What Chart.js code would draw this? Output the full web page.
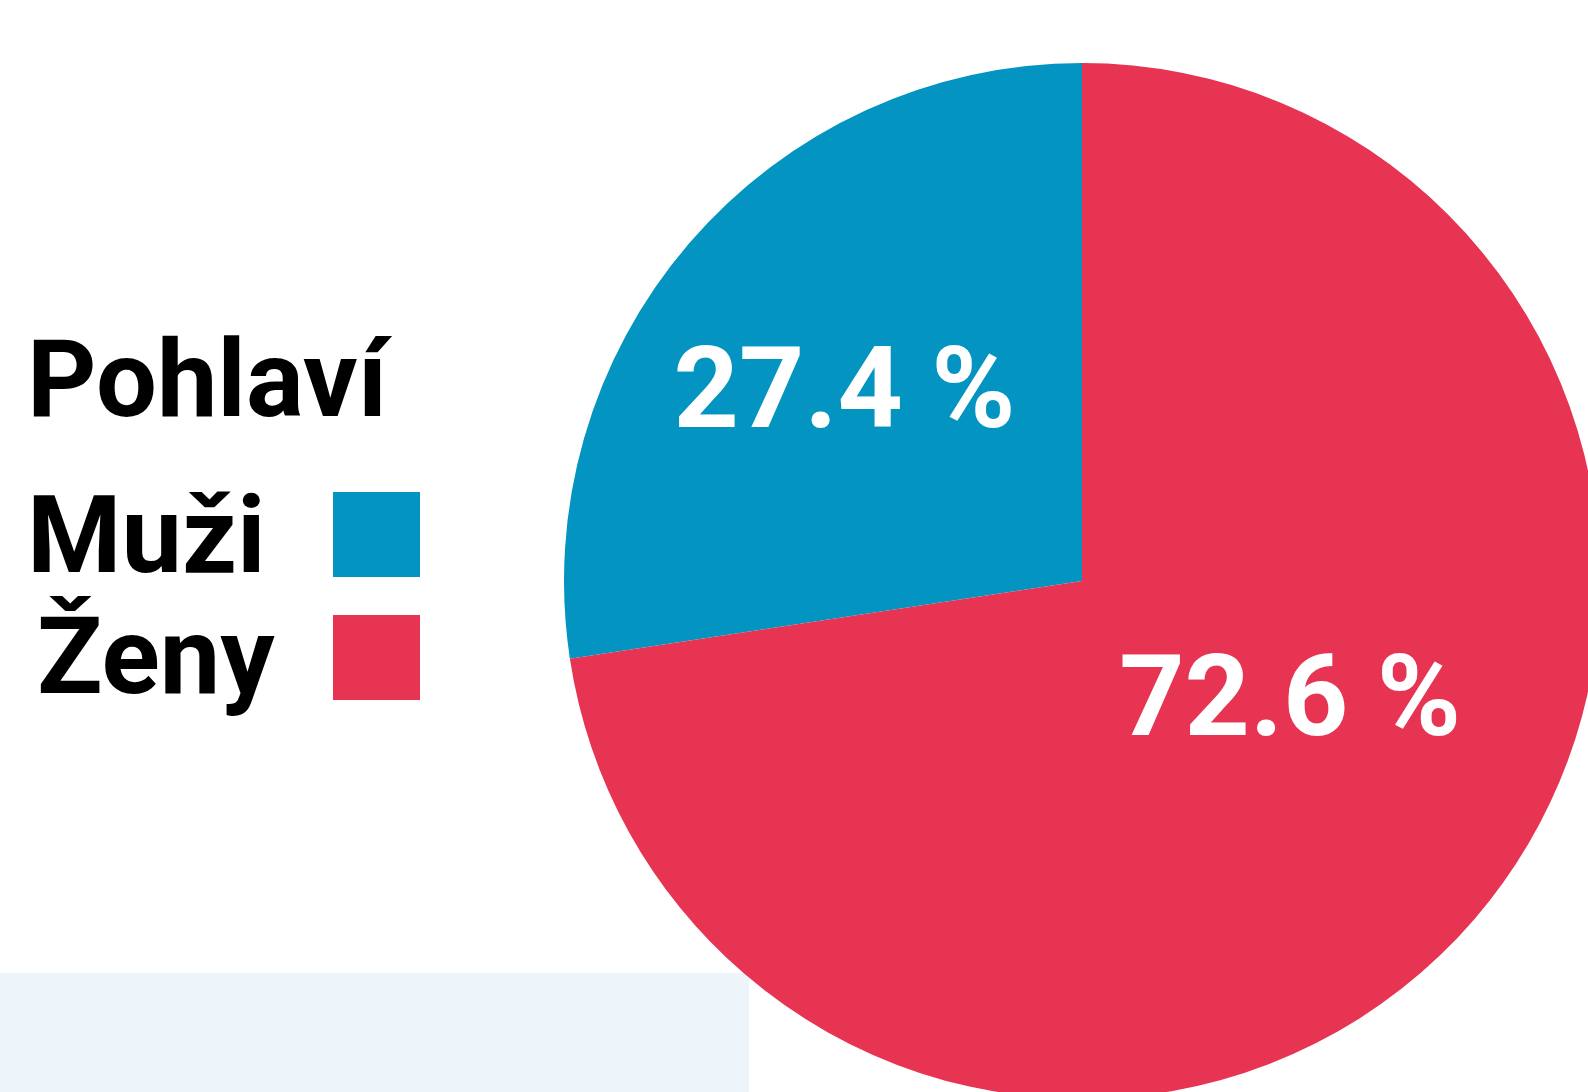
<!DOCTYPE html>
<html>
<head>
<meta charset="utf-8">
<script src="https://cdn.jsdelivr.net/npm/chart.js@4"></script>
<style>
  html, body { margin: 0; padding: 0; background: #ffffff; overflow: hidden; }
  #page { position: relative; width: 1588px; height: 1092px; overflow: hidden; background: #ffffff; }
  #band { position: absolute; left: 0; top: 973px; width: 749px; height: 119px; background: #EDF5FB; }
  #pieBox { position: absolute; left: 564px; top: 63px; width: 1036px; height: 1036px; }
  .txt { position: absolute; left: 27px; font-family: Roboto, "Liberation Sans", sans-serif; font-weight: 700; font-size: 108px; line-height: 1; color: #000; white-space: nowrap; }
  .sw { position: absolute; left: 333px; width: 87px; height: 85px; }
</style>
</head>
<body>
<div id="page">
  <div id="band"></div>
  <div id="legend"></div>
  <div id="pieBox"><canvas id="pie" width="1036" height="1036"></canvas></div>
</div>
<script>
// ---- data ----
const legendTitle = "Pohlaví";
const categories = ["Muži", "Ženy"];
const values = [27.4, 72.6];
const colors = ["#0394C1", "#E63452"];
// label placement (fraction of radius, angle offset in degrees from slice bisector)
const labelFrac = [0.593, 0.458];
const labelAngleOffset = [-1.3, -12];

// ---- legend (HTML text) ----
const legend = document.getElementById("legend");
const title = document.createElement("div");
title.className = "txt";
title.style.top = "325px";
title.textContent = legendTitle;
legend.appendChild(title);
const rowTops = [481, 602];
const rowLefts = [27, 37];
const swTops = [492, 615];
categories.forEach((c, i) => {
  const t = document.createElement("div");
  t.className = "txt";
  t.style.top = rowTops[i] + "px";
  t.style.left = rowLefts[i] + "px";
  t.textContent = c;
  legend.appendChild(t);
  const s = document.createElement("div");
  s.className = "sw";
  s.style.top = swTops[i] + "px";
  s.style.background = colors[i];
  legend.appendChild(s);
});

// ---- pie ----
const total = values.reduce((a, b) => a + b, 0);
const labelPlugin = {
  id: "sliceLabels",
  afterDatasetsDraw(chart) {
    const ctx = chart.ctx;
    const meta = chart.getDatasetMeta(0);
    ctx.save();
    ctx.font = "700 114px Roboto, 'Liberation Sans', sans-serif";
    ctx.fillStyle = "#ffffff";
    ctx.textAlign = "center";
    ctx.textBaseline = "alphabetic";
    const capH = ctx.measureText("H").actualBoundingBoxAscent;
    meta.data.forEach((arc, i) => {
      const p = arc.getProps(["x", "y", "startAngle", "endAngle", "outerRadius"], true);
      const mid = (p.startAngle + p.endAngle) / 2 + labelAngleOffset[i] * Math.PI / 180;
      const r = p.outerRadius * labelFrac[i];
      const x = p.x + Math.cos(mid) * r;
      const y = p.y + Math.sin(mid) * r;
      ctx.fillText(values[i].toFixed(1) + " %", x, y + capH / 2);
    });
    ctx.restore();
  }
};

new Chart(document.getElementById("pie"), {
  type: "pie",
  data: {
    labels: categories,
    datasets: [{
      data: values,
      backgroundColor: colors,
      borderWidth: 0,
      hoverOffset: 0
    }]
  },
  options: {
    responsive: false,
    animation: false,
    rotation: -values[0] / total * 360,
    layout: { padding: 0 },
    plugins: {
      legend: { display: false },
      tooltip: { enabled: false }
    },
    events: []
  },
  plugins: [labelPlugin]
});
</script>
</body>
</html>
